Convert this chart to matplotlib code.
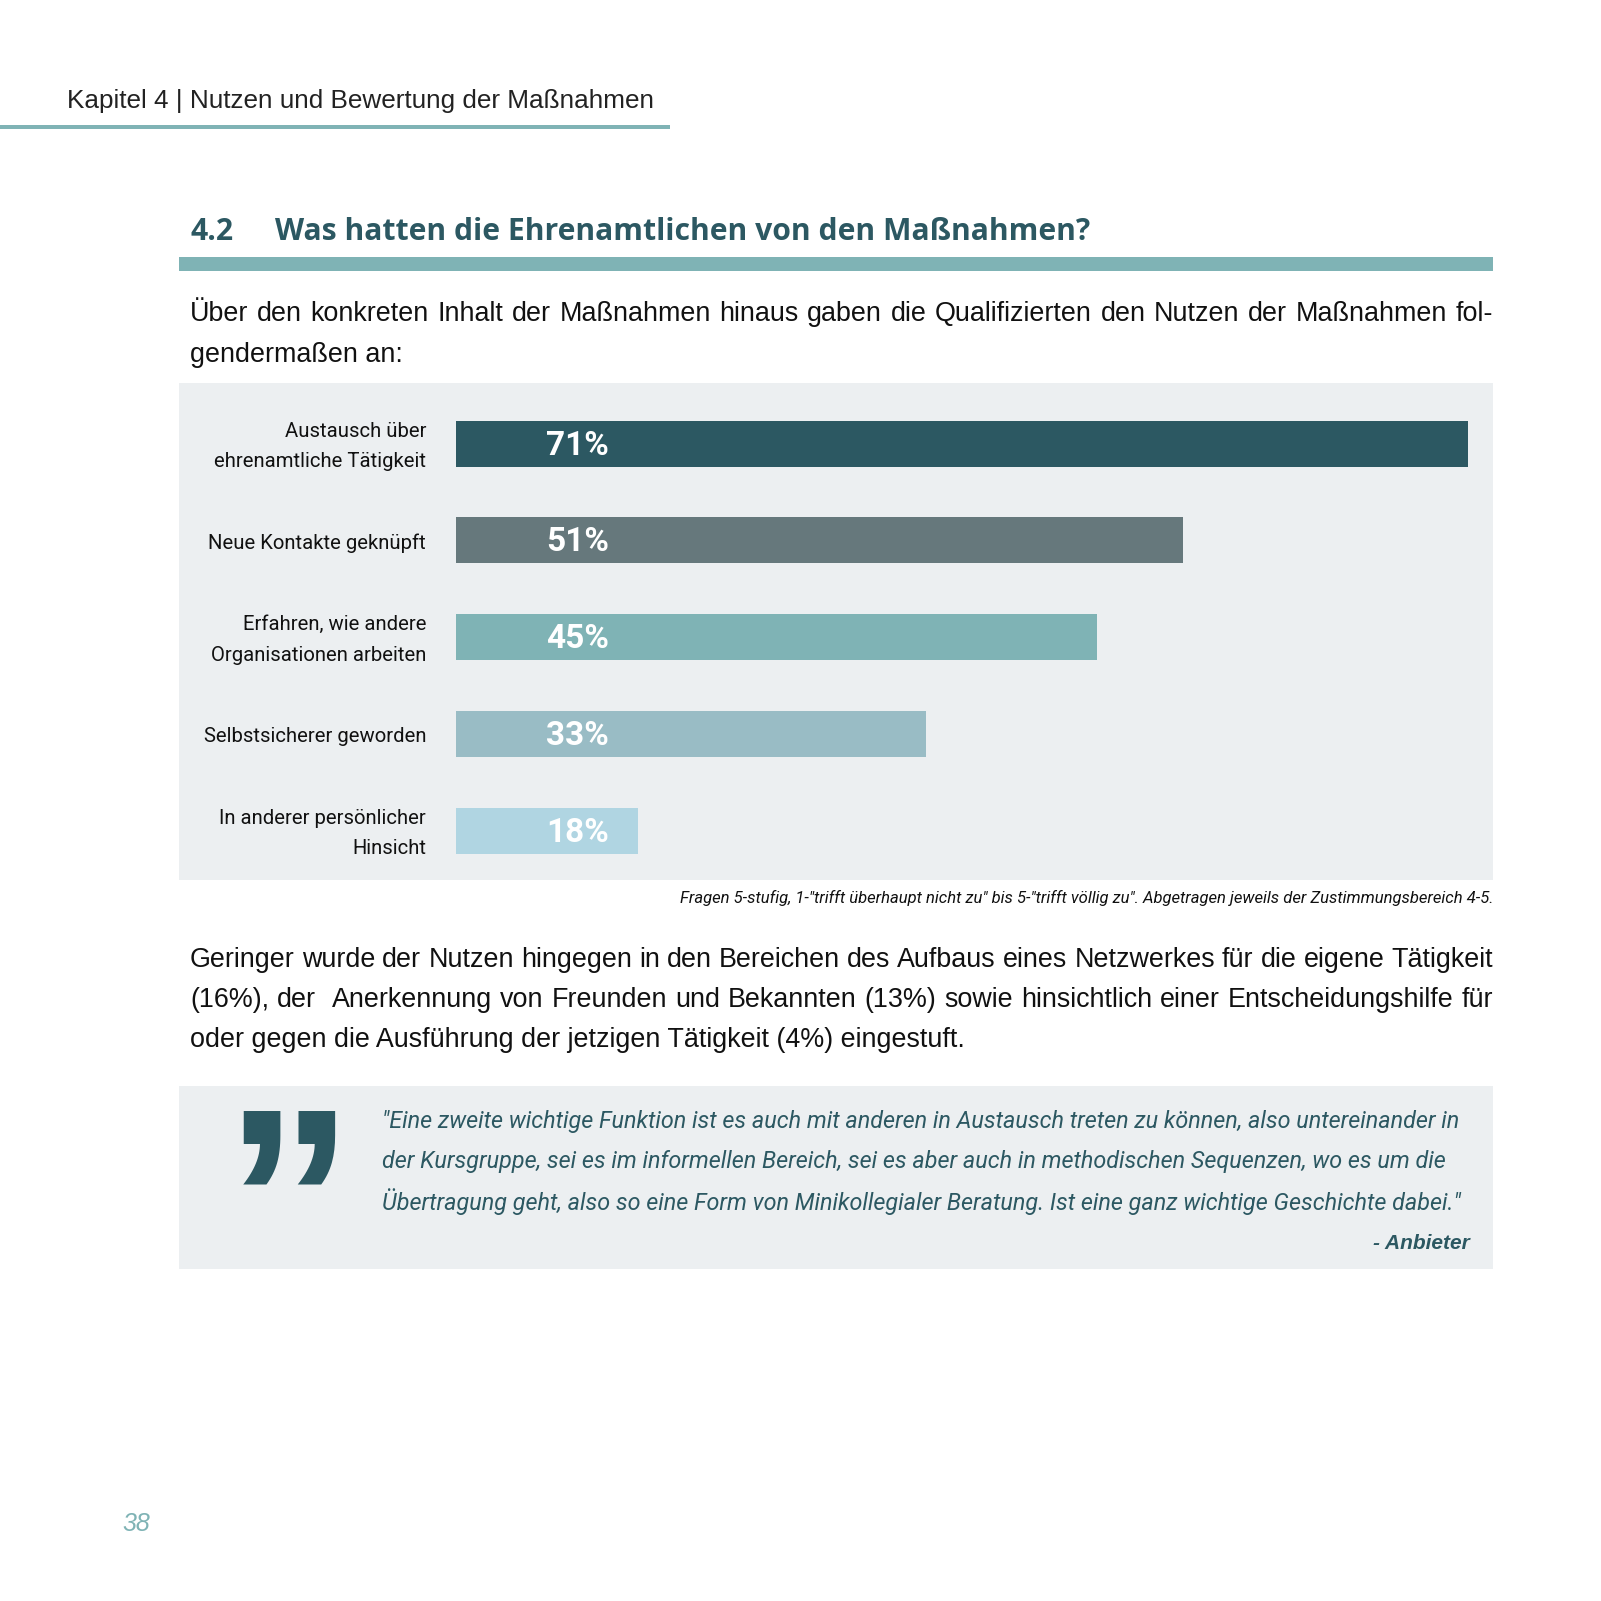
import matplotlib
matplotlib.use("Agg")
import matplotlib.pyplot as plt
from matplotlib.patches import Rectangle

W = H = 1601
DPI = 100

categories = [
    "Austausch über\nehrenamtliche Tätigkeit",
    "Neue Kontakte geknüpft",
    "Erfahren, wie andere\nOrganisationen arbeiten",
    "Selbstsicherer geworden",
    "In anderer persönlicher\nHinsicht",
]
# bar lengths as drawn in the original (the 18% bar is drawn shorter there)
bar_lengths = [71, 51, 45, 33, 12.8]
pct_labels = ["71%", "51%", "45%", "33%", "18%"]
bar_colors = ["#2c5862", "#66787c", "#7fb3b5", "#99bcc5", "#b0d5e2"]

para1 = [
    "Über den konkreten Inhalt der Maßnahmen hinaus gaben die Qualifizierten den Nutzen der Maßnahmen fol-",
    "gendermaßen an:",
]
para2 = [
    "Geringer wurde der Nutzen hingegen in den Bereichen des Aufbaus eines Netzwerkes für die eigene Tätigkeit",
    "(16%), der  Anerkennung von Freunden und Bekannten (13%) sowie hinsichtlich einer Entscheidungshilfe für",
    "oder gegen die Ausführung der jetzigen Tätigkeit (4%) eingestuft.",
]
quote = [
    "\"Eine zweite wichtige Funktion ist es auch mit anderen in Austausch treten zu können, also untereinander in",
    "der Kursgruppe, sei es im informellen Bereich, sei es aber auch in methodischen Sequenzen, wo es um die",
    "Übertragung geht, also so eine Form von Minikollegialer Beratung. Ist eine ganz wichtige Geschichte dabei.\"",
]
footnote = ("Fragen 5-stufig, 1-\"trifft überhaupt nicht zu\" bis 5-\"trifft völlig zu\". "
            "Abgetragen jeweils der Zustimmungsbereich 4-5.")

DARK = "#2c5862"
TEAL = "#7fb3b5"
PANEL = "#eceff1"
BODY = ["Liberation Sans", "DejaVu Sans"]
NARROW = ["Roboto", "DejaVu Sans"]
BODY_SIZE = 19.4

fig = plt.figure(figsize=(W / DPI, H / DPI), dpi=DPI)
fig.patch.set_facecolor("white")


def px(x, y):
    return x / W, 1 - y / H


def box(x0, y0, x1, y1, color):
    fig.patches.append(Rectangle(px(x0, y1), (x1 - x0) / W, (y1 - y0) / H,
                                 transform=fig.transFigure, color=color, lw=0))


def justify(line, x0, x1, y, **kw):
    r = fig.canvas.get_renderer()
    words = line.split(" ")
    ts = [fig.text(0, 0, w, va="center", **kw) for w in words]
    widths = [t.get_window_extent(r).width if w else 0 for t, w in zip(ts, words)]
    gap = (x1 - x0 - sum(widths)) / (len(words) - 1)
    x = x0
    for t, w in zip(ts, widths):
        t.set_position(px(x, y))
        x += w + gap


# header
fig.text(*px(67, 101), "Kapitel 4 | Nutzen und Bewertung der Maßnahmen", fontsize=18.8,
         family=BODY, color="#222222", va="center")
box(0, 125, 670, 129, TEAL)

# section heading
fig.text(*px(190, 232), "4.2", fontsize=21.7, family=["Open Sans", "DejaVu Sans"],
         weight="bold", color=DARK, va="center")
fig.text(*px(275, 232), "Was hatten die Ehrenamtlichen von den Maßnahmen?", fontsize=21.7,
         family=["Open Sans", "DejaVu Sans"], weight="bold", color=DARK, va="center")
box(179, 257, 1493, 271, TEAL)

# intro paragraph
justify(para1[0], 190, 1493, 314, fontsize=BODY_SIZE, family=BODY, color="#111111")
fig.text(*px(190, 355), para1[1], fontsize=BODY_SIZE, family=BODY, color="#111111", va="center")

# chart panel
ax = fig.add_axes([179 / W, 1 - 880 / H, (1493 - 179) / W, (880 - 383) / H])
ax.set_facecolor(PANEL)
step = 96.75
ax.set_xlim((179 - 456) / 14.25, (1493 - 456) / 14.25)
ax.set_ylim((880 - 443.6) / step, (383 - 443.6) / step)
for s in ax.spines.values():
    s.set_visible(False)
ax.set_xticks([])
ax.set_yticks([])

ypos = list(range(len(categories)))
ax.barh(ypos, bar_lengths, height=46 / step, color=bar_colors, left=0)
for y, cat, lab in zip(ypos, categories, pct_labels):
    ax.text(-2.1, y + 0.03, cat, ha="right", va="center", fontsize=14.6, family=NARROW,
            color="#111111", linespacing=1.75)
    ax.text(6.3, y + 0.02, lab, ha="left", va="center", fontsize=24, family=NARROW,
            weight="bold", color="white")

fig.text(*px(1493, 898), footnote, fontsize=12, family=NARROW, style="italic",
         color="#111111", ha="right", va="center")

# second paragraph
justify(para2[0], 190, 1493, 960, fontsize=BODY_SIZE, family=BODY, color="#111111")
justify(para2[1], 190, 1493, 1000, fontsize=BODY_SIZE, family=BODY, color="#111111")
fig.text(*px(190, 1040), para2[2], fontsize=BODY_SIZE, family=BODY, color="#111111", va="center")

# quote box
box(179, 1086, 1493, 1269, PANEL)
fig.text(*px(289, 1222), "\u201d", fontsize=188, family=BODY, weight="bold",
         color=DARK, ha="center", va="center")
for i, line in enumerate(quote):
    fig.text(*px(382, 1121 + 40.5 * i), line, fontsize=16.8, family=NARROW,
             style="italic", color=DARK, va="center")
fig.text(*px(1470, 1243), "- Anbieter", fontsize=15, family=BODY, style="italic",
         weight="bold", color=DARK, ha="right", va="center")

# page number
fig.text(*px(122, 1524), "38", fontsize=18, family=BODY, style="italic",
         color=TEAL, va="center")

fig.savefig("out.png", dpi=DPI, facecolor="white")
